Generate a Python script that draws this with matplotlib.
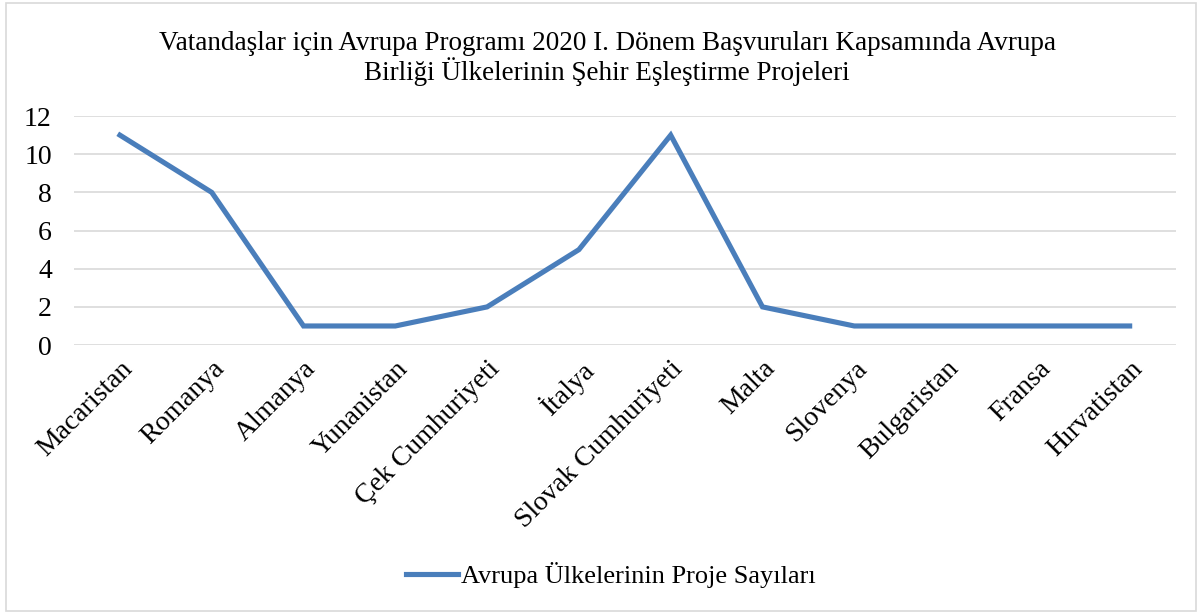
import matplotlib.pyplot as plt
from matplotlib.patches import Rectangle

# Veriler
countries = ['Macaristan', 'Romanya', 'Almanya', 'Yunanistan', 'Çek Cumhuriyeti',
             'İtalya', 'Slovak Cumhuriyeti', 'Malta', 'Slovenya', 'Bulgaristan',
             'Fransa', 'Hırvatistan']
projects = [11, 8, 1, 1, 2, 5, 11, 2, 1, 1, 1, 1]
y_ticks = [0, 2, 4, 6, 8, 10, 12]

plt.rcParams['font.family'] = ['Liberation Serif', 'DejaVu Serif']

fig = plt.figure(figsize=(12.02, 6.14), dpi=100)
ax = fig.add_axes([0.0616, 0.438, 0.9164, 0.373])

x = range(len(countries))
ax.plot(x, projects, color='#4A7EBB', linewidth=3.7, solid_joinstyle='miter',
        label='Avrupa Ülkelerinin Proje Sayıları')

ax.set_xlim(-0.5, len(countries) - 0.5)
ax.set_ylim(0, 12)
ax.set_yticks(y_ticks)
ax.set_xticks(list(x))
ax.set_xticklabels(countries, rotation=45, ha='right', rotation_mode='anchor')
ax.tick_params(axis='both', length=0, labelsize=20, colors='black')
ax.tick_params(axis='y', pad=16)
ax.tick_params(axis='x', pad=8)
ax.yaxis.grid(True, color='#D9D9D9', linewidth=1.2)
ax.set_axisbelow(True)
for s in ax.spines.values():
    s.set_visible(False)

fig.text(0.505, 0.905, 'Vatandaşlar için Avrupa Programı 2020 I. Dönem Başvuruları Kapsamında Avrupa\n'
         'Birliği Ülkelerinin Şehir Eşleştirme Projeleri',
         ha='center', va='center', fontsize=19.5, linespacing=1.05)

fig.legend(loc='center', bbox_to_anchor=(0.508, 0.063), frameon=False, fontsize=19,
           handlelength=2.0, handletextpad=0.1)

# Çerçeve
fig.patches.append(Rectangle((0.005, 0.005), 0.99, 0.99, transform=fig.transFigure,
                             fill=False, edgecolor='#D9D9D9', linewidth=1.2))

fig.savefig('out.png', dpi=100)
